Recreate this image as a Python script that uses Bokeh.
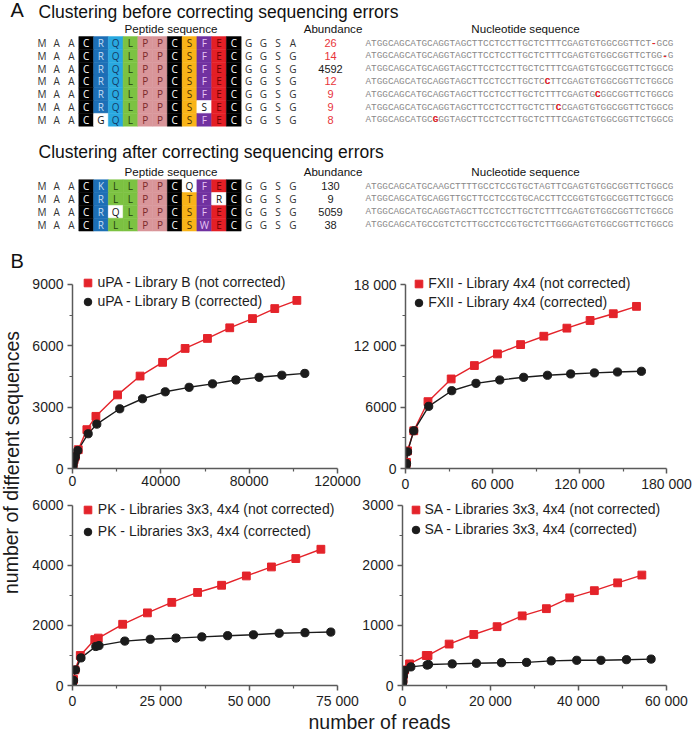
from bokeh.plotting import figure
from bokeh.models import Range1d, FixedTicker, Legend, LegendItem
from bokeh.layouts import column, row
from bokeh.embed import file_html
from bokeh.resources import INLINE
from bokeh.core.properties import value

# ---------------- Panel A data ----------------
before_peptides = [
    "MAACRQLPPCSFECGGSA",
    "MAACRQLPPCSFECGGSG",
    "MAACRQLPPCSFECGGSG",
    "MAACRQLPPCSFECGGSG",
    "MAACRQLPPCSFECGGSG",
    "MAACRQLPPCSSECGGSG",
    "MAACGQLPPCSFECGGSG",
]
before_abundance = [26, 14, 4592, 12, 9, 9, 8]
before_nucleotides = [
    "ATGGCAGCATGCAGGTAGCTTCCTCCTTGCTCTTTCGAGTGTGGCGGTTCT-GCG",
    "ATGGCAGCATGCAGGTAGCTTCCTCCTTGCTCTTTCGAGTGTGGCGGTTCTGG-G",
    "ATGGCAGCATGCAGGTAGCTTCCTCCTTGCTCTTTCGAGTGTGGCGGTTCTGGCG",
    "ATGGCAGCATGCAGGTAGCTTCCTCCTTGCTCCTTCGAGTGTGGCGGTTCTGGCG",
    "ATGGCAGCATGCAGGTAGCTTCCTCCTTGCTCTTTCGAGTGCGGCGGTTCTGGCG",
    "ATGGCAGCATGCAGGTAGCTTCCTCCTTGCTCTTCCGAGTGTGGCGGTTCTGGCG",
    "ATGGCAGCATGCGGGTAGCTTCCTCCTTGCTCTTTCGAGTGTGGCGGTTCTGGCG",
]
before_reference_row = 2
before_column_class = ["C", "R", "Q", "L", "P", "P", "C", "S", "F", "E", "C"]
before_nonconserved = [(5, 11), (6, 4)]

after_peptides = [
    "MAACKLLPPCQFECGGSG",
    "MAACRLLPPCTFRCGGSG",
    "MAACRQLPPCSFECGGSG",
    "MAACRLLPPCSWECGGSG",
]
after_abundance = [130, 9, 5059, 38]
after_nucleotides = [
    "ATGGCAGCATGCAAGCTTTTGCCTCCGTGCTAGTTCGAGTGTGGCGGTTCTGGCG",
    "ATGGCAGCATGCAGGTTGCTTCCTCCGTGCACCTTCCGGTGTGGCGGTTCTGGCG",
    "ATGGCAGCATGCAGGTAGCTTCCTCCTTGCTCTTTCGAGTGTGGCGGTTCTGGCG",
    "ATGGCAGCATGCCGTCTCTTGCCTCCGTGCTCTTGGGAGTGTGGCGGTTCTGGCG",
]
after_column_class = ["C", "R", "L", "L", "P", "P", "C", "S", "F", "E", "C"]
after_nonconserved = [(0, 10), (1, 12), (2, 5)]

# ---------------- Panel B data ----------------
upa_nc_x = [100, 300, 700, 1300, 2600, 6500, 10600, 20400, 30600, 40800, 51000, 61100, 71200, 81500, 91600, 101600]
upa_nc_y = [60, 200, 420, 600, 920, 1900, 2550, 3600, 4520, 5190, 5870, 6360, 6880, 7330, 7820, 8220]
upa_c_x = [100, 300, 700, 1300, 2400, 7100, 11000, 21400, 31700, 42000, 52800, 63400, 74000, 84500, 94800, 105200]
upa_c_y = [50, 190, 400, 580, 880, 1700, 2170, 2920, 3410, 3750, 3970, 4140, 4330, 4460, 4560, 4650]

fxii_nc_x = [0, 300, 700, 1400, 5700, 15500, 31500, 47500, 63400, 79400, 95400, 111300, 127300, 143300, 159300]
fxii_nc_y = [100, 300, 600, 1730, 3690, 6540, 8760, 10070, 11210, 12120, 12940, 13730, 14480, 15140, 15860]
fxii_c_x = [0, 300, 700, 1400, 5700, 16000, 31900, 48600, 65000, 81500, 97900, 113900, 130300, 146200, 162700]
fxii_c_y = [0, 250, 500, 1630, 3690, 6080, 7610, 8330, 8660, 8920, 9120, 9250, 9350, 9440, 9510]

pk_nc_x = [0, 300, 700, 2200, 6300, 7300, 14200, 21200, 28100, 35400, 42200, 49200, 56300, 63200, 70300]
pk_nc_y = [30, 200, 520, 1000, 1530, 1580, 2040, 2420, 2770, 3100, 3340, 3650, 3950, 4230, 4540]
pk_c_x = [0, 300, 850, 2400, 6600, 7500, 14800, 22000, 29300, 36600, 43900, 51200, 58500, 65800, 73100]
pk_c_y = [10, 170, 520, 920, 1300, 1330, 1480, 1540, 1580, 1620, 1660, 1690, 1740, 1760, 1780]

sa_nc_x = [0, 100, 200, 500, 1600, 5400, 5800, 10600, 16200, 21500, 27200, 32700, 38000, 43600, 48900, 54400]
sa_nc_y = [16, 90, 180, 260, 360, 500, 500, 690, 850, 980, 1160, 1280, 1460, 1580, 1710, 1840]
sa_c_x = [0, 100, 200, 500, 1900, 5600, 5900, 11300, 16800, 22500, 28200, 33800, 39600, 45100, 50900, 56500]
sa_c_y = [5, 70, 160, 250, 310, 340, 350, 360, 370, 380, 385, 410, 420, 420, 430, 440]

upa_labels = ["uPA - Library B (not corrected)", "uPA - Library B (corrected)"]
fxii_labels = ["FXII - Library 4x4 (not corrected)", "FXII - Library 4x4 (corrected)"]
pk_labels = ["PK - Libraries 3x3, 4x4 (not corrected)", "PK - Libraries 3x3, 4x4 (corrected)"]
sa_labels = ["SA - Libraries 3x3, 4x4 (not corrected)", "SA - Libraries 3x3, 4x4 (corrected)"]

upa_xticks = [0, 40000, 80000, 120000]
upa_xlabels = ["0", "40000", "80000", "120000"]
upa_yticks = [0, 3000, 6000, 9000]
upa_ylabels = ["0", "3000", "6000", "9000"]
fxii_xticks = [0, 60000, 120000, 180000]
fxii_xlabels = ["0", "60 000", "120 000", "180 000"]
fxii_yticks = [0, 6000, 12000, 18000]
fxii_ylabels = ["0", "6000", "12 000", "18 000"]
pk_xticks = [0, 25000, 50000, 75000]
pk_xlabels = ["0", "25 000", "50 000", "75 000"]
pk_yticks = [0, 2000, 4000, 6000]
pk_ylabels = ["0", "2000", "4000", "6000"]
sa_xticks = [0, 20000, 40000, 60000]
sa_xlabels = ["0", "20 000", "40 000", "60 000"]
sa_yticks = [0, 1000, 2000, 3000]
sa_ylabels = ["0", "1000", "2000", "3000"]

# ---------------- styles ----------------
SANS = value("Liberation Sans")
RED = "#e4232a"
BLACK = "#1b1b1b"
AXIS = "#5a5a5a"
CELL_FILL = {"C": "#000000", "R": "#1d6fb6", "Q": "#29a8e0", "L": "#7cc242",
             "P": "#d9969a", "S": "#f9b418", "F": "#7131a0", "E": "#e41f26", "W": "#ffffff"}
CELL_TEXT = {"C": "#ffffff", "R": "#c3dcf3", "Q": "#153c68", "L": "#23400e",
             "P": "#7a2a2a", "S": "#4d3300", "F": "#e6c4f5", "E": "#700000", "W": "#111111"}

# ---------------- Panel A figure (page coordinates, 1 unit = 1 px) ----------------
figA = figure(width=696, height=272, x_range=Range1d(0, 696), y_range=Range1d(272, 0),
              toolbar_location=None, output_backend="svg",
              x_axis_location=None, y_axis_location=None, min_border=0)
figA.grid.visible = False
figA.outline_line_color = None


def put_text(p, x, y, s, size, align="left", color="#111111", angle=0.0):
    p.text(x=[x], y=[y], text=[s], text_font=SANS, text_font_size=size, text_align=align,
           text_baseline="middle", text_color=color, angle=angle)


COL0 = 41.4
COLW = 14.76
NT_X0 = 365.0
NT_SIZE = 9.33
NT_ADV = 0.60009 * NT_SIZE


def draw_table(p, peps, abund, nts, classes, nonconserved, y0, dy, ref_row):
    cx, cy, cf = [], [], []
    lx, ly, lt, lc = [], [], [], []
    for r, pep in enumerate(peps):
        y = y0 + dy * r
        for i, aa in enumerate(pep):
            x = COL0 + COLW * i
            if 3 <= i <= 13:
                cls = "W" if (r, i) in nonconserved else classes[i - 3]
                cx.append(x); cy.append(y); cf.append(CELL_FILL[cls])
                tc = CELL_TEXT[cls]
            else:
                tc = "#333333"
            lx.append(x); ly.append(y); lt.append(aa); lc.append(tc)
    p.rect(x=cx, y=cy, width=COLW, height=dy, fill_color=cf, line_color=cf, line_width=0.5)
    p.text(x=lx, y=ly, text=lt, text_color=lc, text_font=value("Open Sans"),
           text_font_size="10px", text_align="center", text_baseline="middle")
    ys = [y0 + dy * r for r in range(len(abund))]
    acol = ["#e8343a" if (ref_row is not None and r != ref_row) else "#1a1a1a" for r in range(len(abund))]
    p.text(x=[330] * len(abund), y=ys, text=[str(a) for a in abund], text_color=acol,
           text_font=SANS, text_font_size="11px", text_align="center", text_baseline="middle")
    p.text(x=[NT_X0] * len(nts), y=ys, text=nts, text_color="#8a8a8a",
           text_font=value("Liberation Mono"), text_font_size=f"{NT_SIZE}px",
           text_align="left", text_baseline="middle")
    if ref_row is not None:
        rx, ry, rt = [], [], []
        for r, s in enumerate(nts):
            for k, ch in enumerate(s):
                if ch != nts[ref_row][k]:
                    rx.append(NT_X0 + NT_ADV * k); ry.append(ys[r]); rt.append(ch)
        p.text(x=rx, y=ry, text=rt, text_color="#e4232a", text_font=value("Liberation Mono"),
               text_font_size=f"{NT_SIZE}px", text_font_style="bold",
               text_align="left", text_baseline="middle")


put_text(figA, 10, 9.8, "A", "20px")
put_text(figA, 38, 11.7, "Clustering before correcting sequencing errors", "17.5px")
put_text(figA, 170.5, 27.8, "Peptide sequence", "11.6px", align="center")
put_text(figA, 332.5, 27.8, "Abundance", "11.6px", align="center")
put_text(figA, 525, 27.8, "Nucleotide sequence", "11.6px", align="center")
draw_table(figA, before_peptides, before_abundance, before_nucleotides, before_column_class,
           before_nonconserved, 42.5, 12.8, before_reference_row)

put_text(figA, 38, 151.7, "Clustering after correcting sequencing errors", "17.5px")
put_text(figA, 170.5, 170.8, "Peptide sequence", "11.6px", align="center")
put_text(figA, 332.5, 170.8, "Abundance", "11.6px", align="center")
put_text(figA, 525, 170.8, "Nucleotide sequence", "11.6px", align="center")
draw_table(figA, after_peptides, after_abundance, after_nucleotides, after_column_class,
           after_nonconserved, 185.6, 12.85, None)

put_text(figA, 10, 260.8, "B", "20px")


# ---------------- Panel B figures ----------------
def make_plot(width, height, bl, br, bt, bb, pad_top, xmax, ymax, xt, xl, yt, yl,
              xnc, ync, xc, yc, labels, marker_xy, spacing, standoff, margin=None):
    fh = height - bt - bb
    y_end = ymax * fh / (fh - pad_top)   # frame extends pad_top px above the last tick
    p = figure(width=width, height=height, x_range=Range1d(0, xmax), y_range=Range1d(0, y_end),
               toolbar_location=None, output_backend="svg",
               min_border_left=bl, min_border_right=br, min_border_top=bt, min_border_bottom=bb)
    p.grid.visible = False
    p.outline_line_color = None
    p.background_fill_color = None
    p.border_fill_color = None
    if margin is not None:
        p.margin = margin
    xminor = [(a + b) / 2 for a, b in zip(xt[:-1], xt[1:])]
    yminor = [(a + b) / 2 for a, b in zip(yt[:-1], yt[1:])]
    p.xaxis.ticker = FixedTicker(ticks=xt, minor_ticks=xminor)
    p.yaxis.ticker = FixedTicker(ticks=yt, minor_ticks=yminor)
    p.xaxis.major_label_overrides = {t: s for t, s in zip(xt, xl)}
    p.yaxis.major_label_overrides = {t: s for t, s in zip(yt, yl)}
    p.yaxis.bounds = (0, ymax)
    for ax in (p.xaxis[0], p.yaxis[0]):
        ax.axis_line_color = AXIS
        ax.axis_line_width = 1.5
        ax.major_tick_line_color = AXIS
        ax.major_tick_line_width = 1.5
        ax.major_tick_in = 0
        ax.major_tick_out = 5
        ax.minor_tick_line_color = AXIS
        ax.minor_tick_line_width = 1.2
        ax.minor_tick_in = 0
        ax.minor_tick_out = 3
        ax.major_label_text_font = "Liberation Sans"
        ax.major_label_text_font_size = "14px"
        ax.major_label_text_color = "#1e1e1e"
    p.xaxis.major_label_standoff = 2
    p.yaxis.major_label_standoff = 4

    p.line(xnc, ync, line_color=RED, line_width=1.4)
    p.line(xc, yc, line_color=BLACK, line_width=1.4)
    r_nc = p.scatter(xnc, ync, marker="square", size=7.8, fill_color=RED, line_color=RED)
    r_c = p.scatter(xc, yc, marker="circle", size=8.2, fill_color=BLACK, line_color=BLACK)

    mx, my = marker_xy  # desired first legend marker centre, relative to frame top-left
    rh = 19
    leg_h = 2 * rh + spacing
    vx = mx - rh / 2
    vy = fh - (my - rh / 2 + leg_h)
    legend = Legend(items=[LegendItem(label=value(labels[0]), renderers=[r_nc]),
                           LegendItem(label=value(labels[1]), renderers=[r_c])],
                    location=(vx, vy), orientation="vertical", padding=0, margin=0,
                    spacing=spacing, glyph_width=rh, glyph_height=rh, label_height=rh,
                    label_standoff=standoff, border_line_color=None, background_fill_alpha=0,
                    label_text_font="Liberation Sans", label_text_font_size="14px",
                    label_text_color="#1e1e1e")
    p.add_layout(legend)
    return p


# row 1: page y 272..494 ; row 2: page y 494..711
p1 = make_plot(338, 222, 44, 29, 2, 25, 10, 120000, 9000, upa_xticks, upa_xlabels, upa_yticks, upa_ylabels,
               upa_nc_x, upa_nc_y, upa_c_x, upa_c_y, upa_labels, (15, 9.3), 0, 1)
p2 = make_plot(346, 222, 52, 30, 2, 26, 10, 180000, 18000, fxii_xticks, fxii_xlabels, fxii_yticks, fxii_ylabels,
               fxii_nc_x, fxii_nc_y, fxii_c_x, fxii_c_y, fxii_labels, (13.7, 9.3), 0, 0,
               margin=(0, 0, 0, -16))
p3 = make_plot(338, 217, 44, 29, 7, 22, 4, 75000, 6000, pk_xticks, pk_xlabels, pk_yticks, pk_ylabels,
               pk_nc_x, pk_nc_y, pk_c_x, pk_c_y, pk_labels, (15.3, 12.3), 3, 1)
p4 = make_plot(346, 217, 52, 30, 7, 22, 4, 60000, 3000, sa_xticks, sa_xlabels, sa_yticks, sa_ylabels,
               sa_nc_x, sa_nc_y, sa_c_x, sa_c_y, sa_labels, (13, 12.3), 1, 0,
               margin=(0, 0, 0, -16))

# shared axis titles
ylab = figure(width=28, height=439, x_range=Range1d(0, 28), y_range=Range1d(711, 272),
              toolbar_location=None, output_backend="svg",
              x_axis_location=None, y_axis_location=None, min_border=0)
ylab.grid.visible = False
ylab.outline_line_color = None
put_text(ylab, 11, 462, "number of different sequences", "19.5px", align="center",
         color="#1a1a1a", angle=1.5707963)

xlab = figure(width=696, height=25, x_range=Range1d(0, 696), y_range=Range1d(736, 711),
              toolbar_location=None, output_backend="svg",
              x_axis_location=None, y_axis_location=None, min_border=0)
xlab.grid.visible = False
xlab.outline_line_color = None
put_text(xlab, 379, 721, "number of reads", "19.5px", align="center", color="#1a1a1a")

layout = column(figA, row(ylab, column(row(p1, p2), row(p3, p4))), xlab)

with open("out.html", "w") as f:
    f.write(file_html(layout, INLINE))
